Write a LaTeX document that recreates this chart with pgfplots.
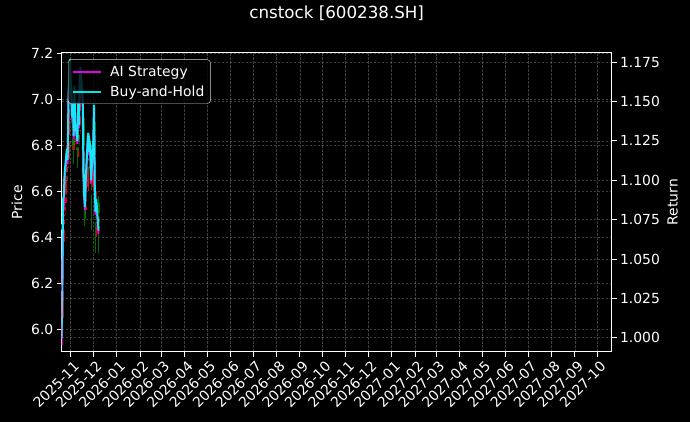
\documentclass[border=0pt]{standalone}
\usepackage{fontspec}
\setmainfont{DejaVu Sans}
\usepackage{pgfplots}
\pgfplotsset{compat=1.18}
\usepackage{pgfplotstable}

\definecolor{mplcyan}{RGB}{0,255,255}
\definecolor{mplmagenta}{RGB}{255,0,255}
\definecolor{upred}{RGB}{255,0,0}
\definecolor{downgreen}{RGB}{0,128,0}

% daily candles, x = days since 2025-11-01
\pgfplotstableread{
d O H L C
-12 6.00 6.08 5.96 6.03
-11 6.05 6.35 6.02 6.30
-10 6.32 6.60 6.30 6.56
-9 6.45 6.62 6.35 6.57
-8 6.50 6.70 6.38 6.66
-5 6.68 6.80 6.55 6.75
-3 6.72 6.97 6.70 6.93
-2 6.92 7.08 6.85 7.02
-1 7.00 7.14 6.90 7.10
3 6.85 6.98 6.78 6.93
5 6.80 7.05 6.78 7.00
10 6.78 6.96 6.75 6.93
12 6.85 7.05 6.83 7.02
13 7.00 7.12 6.96 7.07
20 6.52 6.68 6.50 6.63
23 6.62 6.85 6.60 6.81
25 6.74 6.82 6.70 6.78
30 6.62 6.82 6.60 6.78
31 6.78 6.96 6.75 6.92
34 6.50 6.60 6.40 6.56
}\upcandles

\pgfplotstableread{
d O H L C
-4 6.76 6.80 6.65 6.71
2 7.02 7.05 6.80 6.87
4 6.92 6.95 6.72 6.80
6 6.98 7.00 6.82 6.86
9 6.85 6.90 6.70 6.78
11 6.92 6.95 6.80 6.84
16 7.05 7.08 6.88 6.93
17 6.92 6.94 6.62 6.66
18 6.65 6.70 6.45 6.57
19 6.55 6.62 6.48 6.53
24 6.80 6.83 6.68 6.74
26 6.78 6.80 6.70 6.77
27 6.75 6.76 6.43 6.63
32 6.90 6.92 6.55 6.60
33 6.58 6.62 6.33 6.51
37 6.55 6.58 6.33 6.44
}\downcandles

\pgfplotstableread{
d ai bh
-12 0.995 1.000
-11 1.030 1.045
-10 1.080 1.088
-9 1.085 1.090
-8 1.100 1.105
-5 1.118 1.120
-4 1.110 1.113
-3 1.148 1.150
-2 1.162 1.165
-1 1.175 1.177
2 1.138 1.140
3 1.148 1.150
4 1.126 1.128
5 1.158 1.160
6 1.135 1.137
9 1.123 1.125
10 1.148 1.150
11 1.133 1.135
12 1.163 1.165
13 1.170 1.172
16 1.148 1.150
17 1.103 1.105
18 1.088 1.090
19 1.081 1.083
20 1.098 1.100
23 1.128 1.130
24 1.116 1.118
25 1.123 1.125
26 1.120 1.122
27 1.098 1.100
30 1.123 1.125
31 1.146 1.148
32 1.093 1.095
33 1.078 1.080
34 1.086 1.088
37 1.066 1.068
}\returns

\newcommand{\tfont}{\fontsize{13.9bp}{16bp}\selectfont}

\pgfplotsset{
  darkax/.style={
    width=550bp, height=299bp, scale only axis,
    at={(61.7bp,70.3bp)}, anchor=south west,
    xmin=-11.9, xmax=718.1,
    axis line style={white, line width=0.8bp},
    tick style={white, line width=0.8bp},
    major tick length=4.9bp, tick align=outside,
    tick label style={text=white, font=\tfont},
    /pgf/number format/assume math mode=true,
    grid style={gray!80, line width=0.4bp, dash pattern=on 2.5bp off 1.5bp, opacity=0.4},
  },
  wick/.style={only marks, mark=none, forget plot, opacity=0.85,
    error bars/.cd, y dir=both, y explicit, error mark=none,
    error bar style={#1, line width=0.9bp}},
  body/.style={only marks, mark=none, forget plot, opacity=0.85,
    error bars/.cd, y dir=both, y explicit, error mark=none,
    error bar style={#1, line width=2.4bp}},
}

\begin{document}
\begin{tikzpicture}
\fill[black] (0bp,0bp) rectangle (690bp,422bp);

\begin{axis}[darkax,
    tick pos=left,
    ymin=5.902, ymax=7.203,
    xmajorgrids, ymajorgrids,
    xtick={0,30,61,92,120,151,181,212,242,273,304,334,365,395,426,457,485,516,546,577,607,638,669,699},
    xticklabels={2025-11,2025-12,2026-01,2026-02,2026-03,2026-04,2026-05,2026-06,2026-07,2026-08,2026-09,2026-10,2026-11,2026-12,2027-01,2027-02,2027-03,2027-04,2027-05,2027-06,2027-07,2027-08,2027-09,2027-10},
    xticklabel style={rotate=45, anchor=north east, inner sep=1bp, yshift=-3bp},
    ytick={6.0,6.2,6.4,6.6,6.8,7.0,7.2},
    yticklabel style={/pgf/number format/.cd, fixed, fixed zerofill, precision=1},
    ylabel={Price},
    every axis y label/.style={at={(rel axis cs:0,0.5)}, xshift=-44.7bp,
      rotate=90, anchor=center, text=white, font=\tfont},
    title={cnstock [600238.SH]},
    title style={at={(0.5,1)}, anchor=base, yshift=28bp, text=white,
      font=\fontsize{16.7bp}{19bp}\selectfont},
  ]
  \addplot[wick=upred] table[x=d, y expr={(\thisrow{H}+\thisrow{L})/2},
    y error expr={(\thisrow{H}-\thisrow{L})/2}] {\upcandles};
  \addplot[body=upred] table[x=d, y expr={(\thisrow{O}+\thisrow{C})/2},
    y error expr={abs(\thisrow{C}-\thisrow{O})/2}] {\upcandles};
  \addplot[wick=downgreen] table[x=d, y expr={(\thisrow{H}+\thisrow{L})/2},
    y error expr={(\thisrow{H}-\thisrow{L})/2}] {\downcandles};
  \addplot[body=downgreen] table[x=d, y expr={(\thisrow{O}+\thisrow{C})/2},
    y error expr={abs(\thisrow{C}-\thisrow{O})/2}] {\downcandles};
\end{axis}

\begin{axis}[darkax,
    axis x line=none, axis y line*=right,
    ymin=0.9911, ymax=1.181,
    ymajorgrids,
    ytick={1.000,1.025,1.050,1.075,1.100,1.125,1.150,1.175},
    yticklabel style={/pgf/number format/.cd, fixed, fixed zerofill, precision=3},
    ylabel={Return},
    every axis y label/.style={at={(rel axis cs:1,0.5)}, xshift=61bp,
      rotate=90, anchor=center, text=white, font=\tfont},
    legend style={at={(0,1)}, anchor=north west, xshift=6.3bp, yshift=-6.8bp,
      fill=black, fill opacity=0.8, text opacity=1, draw=white!85!black,
      rounded corners=3bp, text=white, font=\tfont, row sep=4bp,
      inner xsep=4bp, inner ysep=4bp},
    legend cell align=left,
    legend image code/.code={\draw[#1, line width=2bp] (0bp,0bp) -- (28bp,0bp);
      \path (34bp,0bp);},
  ]
  \addplot[mplmagenta, line width=2bp, opacity=0.9] table[x=d, y=ai] {\returns};
  \addlegendentry{AI Strategy}
  \addplot[mplcyan, line width=2bp, opacity=0.9] table[x=d, y=bh] {\returns};
  \addlegendentry{Buy-and-Hold}
\end{axis}
\pgfresetboundingbox
\useasboundingbox (0bp,0bp) rectangle (690bp,422bp);
\end{tikzpicture}
\end{document}
